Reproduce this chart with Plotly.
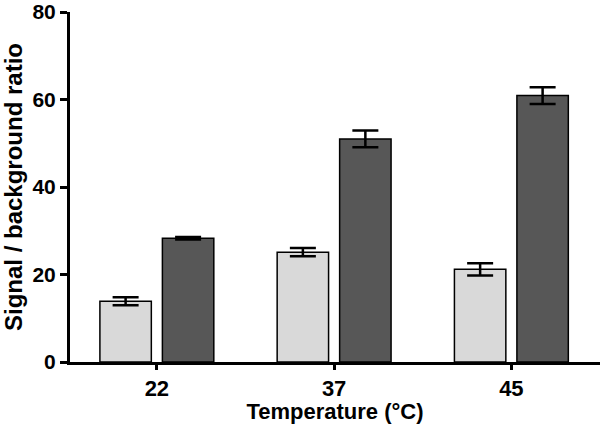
import plotly.graph_objects as go

temps = ['22', '37', '45']
light_vals = [13.9, 25.1, 21.2]
light_err = [0.9, 0.95, 1.4]
dark_vals = [28.3, 51.0, 60.9]
dark_err = [0.3, 1.9, 1.9]

font_family = 'Liberation Sans, Arial, sans-serif'

fig = go.Figure()
fig.add_trace(go.Bar(
    x=temps, y=light_vals, name='light',
    marker=dict(color='#d9d9d9', line=dict(color='black', width=1.5)),
    error_y=dict(type='data', array=light_err, visible=True, color='black', thickness=2.5, width=13),
))
fig.add_trace(go.Bar(
    x=temps, y=dark_vals, name='dark',
    marker=dict(color='#575757', line=dict(color='black', width=1.5)),
    error_y=dict(type='data', array=dark_err, visible=True, color='black', thickness=2.5, width=13),
))

fig.update_layout(
    width=600, height=424,
    margin=dict(l=70, r=0, t=12, b=62),
    barmode='group', bargap=0.295, bargroupgap=0.177,
    plot_bgcolor='white', paper_bgcolor='white',
    showlegend=False,
    font=dict(family=font_family, color='black'),
)
fig.update_xaxes(
    type='category', range=[-0.49, 2.5], automargin=False,
    showline=True, linecolor='black', linewidth=3,
    ticks='outside', ticklen=5, tickwidth=3, tickcolor='black',
    tickfont=dict(size=22, family=font_family, weight='bold'),
    title=dict(text='Temperature (°C)', font=dict(size=22, weight='bold')),
    showgrid=False,
)
fig.update_yaxes(
    range=[0, 80], tickvals=[0, 20, 40, 60, 80], automargin=False,
    ticklabeloverflow='allow',
    showline=True, linecolor='black', linewidth=3,
    ticks='outside', ticklen=7, tickwidth=3, tickcolor='black',
    tickfont=dict(size=21, family=font_family, weight='bold'),
    title=dict(text='Signal / background ratio', font=dict(size=24, weight='bold')),
    showgrid=False, zeroline=False,
)

# the page body has an 8px default margin; remove it so the figure sits at 0,0
fig.write_html("out.html", config={'displayModeBar': False},
               post_script="document.body.style.margin='0';")
